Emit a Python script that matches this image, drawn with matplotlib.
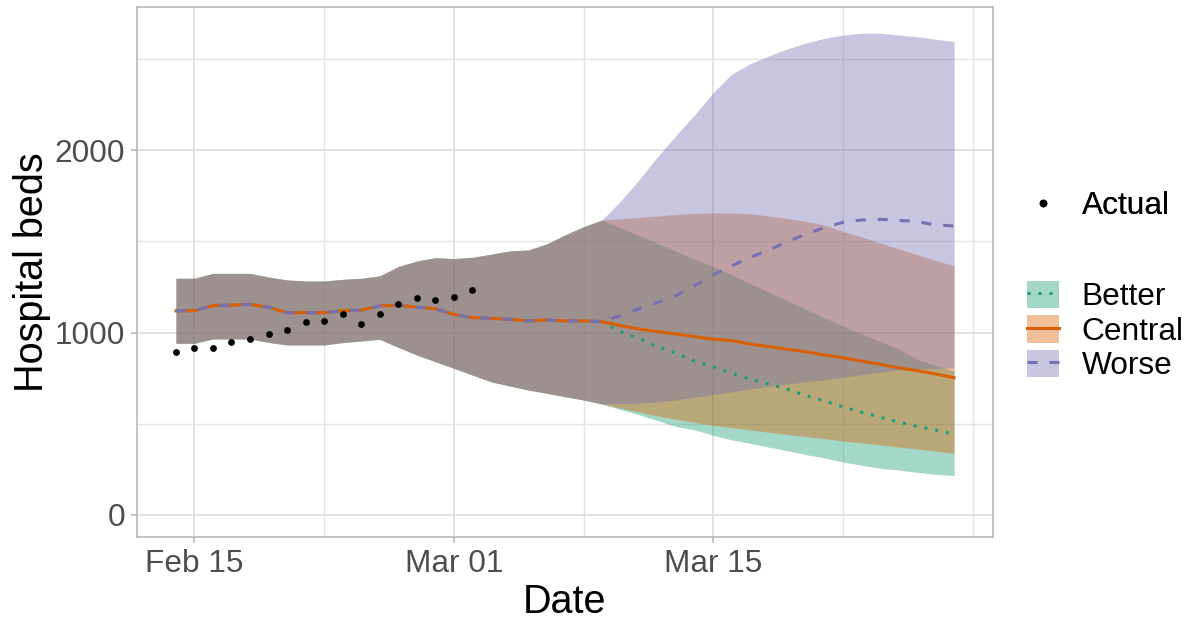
import matplotlib
matplotlib.use('Agg')

import numpy as np
import pandas as pd
import matplotlib.pyplot as plt
import matplotlib.dates as mdates
from matplotlib.lines import Line2D
from matplotlib.patches import Patch
from matplotlib.ticker import FixedLocator

plt.rcParams['font.family'] = ['Liberation Sans', 'DejaVu Sans']

# ============================================
# DATA (daily, first day = Feb 14)
# ============================================
START = '2021-02-14'

# observed hospital beds, Feb 14 - Mar 02
actual = [892, 916, 916, 947, 963, 994, 1016, 1057, 1064, 1102,
          1047, 1102, 1157, 1188, 1181, 1195, 1235]

# model fit shared by all scenarios, Feb 14 - Mar 09
hist_mid = [1119, 1120, 1148, 1151, 1155, 1139, 1109, 1109, 1109, 1120, 1124, 1146,
            1150, 1139, 1131, 1100, 1082, 1078, 1073, 1064, 1069, 1064, 1064, 1060]
hist_lo = [941, 941, 965, 965, 965, 946, 932, 932, 932, 945, 954, 963,
           919, 877, 840, 804, 767, 730, 707, 685, 667, 648, 630, 608]
hist_hi = [1298, 1298, 1325, 1325, 1325, 1305, 1289, 1283, 1283, 1292, 1298, 1311,
           1362, 1393, 1411, 1406, 1413, 1430, 1448, 1453, 1486, 1536, 1581, 1618]

# projections, Mar 10 - Mar 28
better_mid = [1005, 967, 923, 886, 844, 811, 777, 744, 718, 689,
              654, 625, 592, 563, 535, 509, 486, 465, 442]
better_lo = [577, 549, 517, 484, 466, 436, 411, 392, 371, 352,
             330, 312, 290, 272, 255, 246, 233, 222, 215]
better_hi = [1575, 1532, 1489, 1446, 1403, 1362, 1316, 1269, 1222, 1175,
             1128, 1081, 1036, 993, 952, 910, 855, 818, 790]

central_mid = [1038, 1020, 1005, 992, 978, 963, 956, 937, 923, 908,
               895, 877, 862, 844, 826, 807, 791, 773, 752]
central_lo = [585, 563, 542, 524, 507, 491, 478, 466, 453, 441,
              429, 418, 405, 394, 383, 372, 361, 349, 337]
central_hi = [1625, 1632, 1640, 1648, 1654, 1656, 1656, 1652, 1640, 1627,
              1610, 1590, 1555, 1525, 1492, 1460, 1428, 1396, 1366]

worse_mid = [1093, 1131, 1166, 1203, 1257, 1318, 1366, 1413, 1453, 1499,
             1540, 1576, 1605, 1618, 1622, 1616, 1609, 1591, 1585]
worse_lo = [610, 613, 620, 630, 645, 660, 675, 690, 705, 718,
            730, 742, 755, 768, 782, 795, 800, 803, 806]
worse_hi = [1722, 1839, 1966, 2083, 2196, 2317, 2419, 2476, 2518, 2557,
            2589, 2615, 2633, 2643, 2643, 2633, 2624, 2610, 2597]

scenario_names = ['Better', 'Central', 'Worse']
scenario_colors = ['#1B9E77', '#D95F02', '#7570B3']

# ============================================
# BUILD SERIES
# ============================================
n_days = len(hist_mid) + len(better_mid)
dates = pd.date_range(START, periods=n_days)
actual_dates = dates[:len(actual)]

proj = {
    'Better': (better_mid, better_lo, better_hi),
    'Central': (central_mid, central_lo, central_hi),
    'Worse': (worse_mid, worse_lo, worse_hi),
}
series = {}
for name in scenario_names:
    mid, lo, hi = proj[name]
    series[name] = (np.array(hist_mid + mid), np.array(hist_lo + lo), np.array(hist_hi + hi))

line_styles = {
    'Better': dict(linestyle=(0, (1.0, 2.6))),
    'Central': dict(linestyle='-'),
    'Worse': dict(linestyle=(0, (3.3, 3.9))),
}
LW = 2.2

# ============================================
# PLOT
# ============================================
W, H = 1190, 621
fig = plt.figure(figsize=(W / 100, H / 100), dpi=100)
ax = fig.add_axes([137 / W, 1 - 537 / H, (993 - 137) / W, 530 / H])

for name, color in zip(scenario_names, scenario_colors):
    mid, lo, hi = series[name]
    ax.fill_between(dates, lo, hi, color=color, alpha=0.4, linewidth=0)

for name, color in zip(scenario_names, scenario_colors):
    mid, lo, hi = series[name]
    ax.plot(dates, mid, color=color, linewidth=LW, **line_styles[name])

ax.scatter(actual_dates, actual, s=24, color='black', zorder=5, linewidths=0)

# axis limits like ggplot's 5% expansion
x0 = mdates.date2num(dates[0])
x1 = mdates.date2num(dates[-1])
pad = 0.05 * (x1 - x0)
ax.set_xlim(x0 - pad, x1 + pad)
ax.set_ylim(-122, 2787)

major_x = pd.to_datetime(['2021-02-15', '2021-03-01', '2021-03-15'])
minor_x = pd.to_datetime(['2021-02-22', '2021-03-08', '2021-03-22', '2021-03-29'])
ax.xaxis.set_major_locator(FixedLocator(mdates.date2num(major_x)))
ax.xaxis.set_minor_locator(FixedLocator(mdates.date2num(minor_x)))
ax.xaxis.set_major_formatter(mdates.DateFormatter('%b %d'))
ax.yaxis.set_major_locator(FixedLocator([0, 1000, 2000]))
ax.yaxis.set_minor_locator(FixedLocator([500, 1500, 2500]))

ax.grid(which='major', color='#DEDEDE', linewidth=1.3)
ax.grid(which='minor', color='#E4E4E4', linewidth=1.0)
ax.set_axisbelow(True)

for sp in ax.spines.values():
    sp.set_color('#B3B3B3')
    sp.set_linewidth(1.1)

ax.tick_params(which='major', length=4.5, width=1.1, color='#B3B3B3',
               labelsize=22.8, labelcolor='#4D4D4D', pad=4)
ax.tick_params(which='minor', length=0)

ax.set_xlabel('Date', fontsize=28.5, labelpad=3)
ax.set_ylabel('Hospital beds', fontsize=28.5, labelpad=3)

# ============================================
# LEGENDS
# ============================================
pt_handle = Line2D([], [], marker='o', color='black', linestyle='none', markersize=4.5)
leg1 = fig.legend([pt_handle], ['Actual'], loc='center left',
                  bbox_to_anchor=(1027 / W, 1 - 206 / H), frameon=False,
                  fontsize=22.8, handlelength=1.0, handletextpad=0.72,
                  borderpad=0, borderaxespad=0)

sc_handles = []
for name, color in zip(scenario_names, scenario_colors):
    box = Patch(facecolor=color, alpha=0.4, edgecolor='none')
    ln = Line2D([], [], color=color, linewidth=LW, **line_styles[name])
    sc_handles.append((box, ln))

leg2 = fig.legend(sc_handles, scenario_names, loc='center left',
                  bbox_to_anchor=(1027 / W, 1 - 331 / H), frameon=False,
                  fontsize=22.8, handlelength=1.0, handleheight=0.95,
                  handletextpad=0.72, labelspacing=0.1,
                  borderpad=0, borderaxespad=0)
fig.add_artist(leg1)

fig.savefig('out.png', dpi=100)
